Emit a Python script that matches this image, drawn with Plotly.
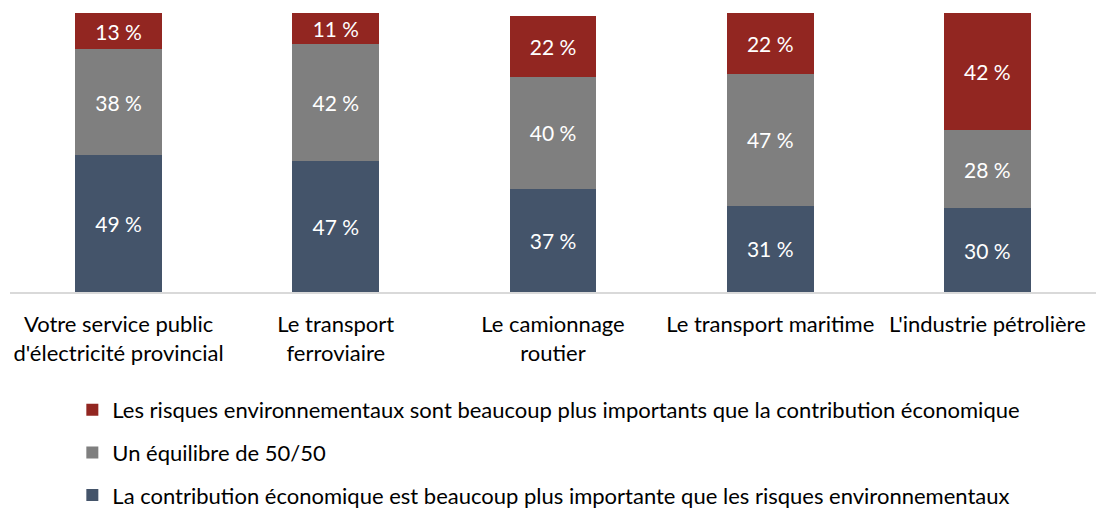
import plotly.graph_objects as go

categories = ["Votre service public<br>d'électricité provincial", "Le transport<br>ferroviaire",
              "Le camionnage<br>routier", "Le transport maritime", "L'industrie pétrolière"]
economic = [49, 47, 37, 31, 30]
balance = [38, 42, 40, 47, 28]
environment = [13, 11, 22, 22, 42]

series_names = [
    "La contribution économique est beaucoup plus importante que les risques environnementaux",
    "Un équilibre de 50/50",
    "Les risques environnementaux sont beaucoup plus importants que la contribution économique",
]
colors = ["#44546a", "#7f7f7f", "#922621"]
ranks = [3, 2, 1]
FONT = "Lato"

fig = go.Figure()
for name, vals, col, rk in zip(series_names, [economic, balance, environment], colors, ranks):
    fig.add_trace(go.Bar(
        x=categories, y=vals, name=name, marker=dict(color=col, line=dict(width=0)),
        text=[f"{v} %" for v in vals], textposition="inside", insidetextanchor="middle",
        textfont=dict(color="white", size=21, family=FONT), legendgroup=name,
        legendrank=rk, hoverinfo="skip",
    ))

fig.update_layout(
    width=1096, height=508, barmode="stack", bargap=0.6,
    margin=dict(l=10, r=0, t=13, b=216, autoexpand=False),
    plot_bgcolor="white", paper_bgcolor="white",
    font=dict(family=FONT, size=22, color="#000000"),
    showlegend=True,
    legend=dict(x=0.066, xanchor="left", xref="container", y=(508 - 389) / 508, yanchor="top",
                yref="container", traceorder="grouped",
                tracegroupgap=11, font=dict(size=22, family=FONT, color="#000000"),
                itemwidth=30, bgcolor="rgba(0,0,0,0)"),
    uniformtext=dict(mode=False),
)
fig.update_xaxes(showline=True, linecolor="#d9d9d9", linewidth=2, ticks="outside", ticklen=12,
                 tickcolor="rgba(0,0,0,0)", automargin=False,
                 tickfont=dict(size=22, family=FONT, color="#000"))
fig.update_yaxes(range=[0, 100], visible=False, showgrid=False, automargin=False)

fig.write_html("out.html", config={"displayModeBar": False},
               post_script="document.body.style.margin='0';document.body.style.padding='0';")
